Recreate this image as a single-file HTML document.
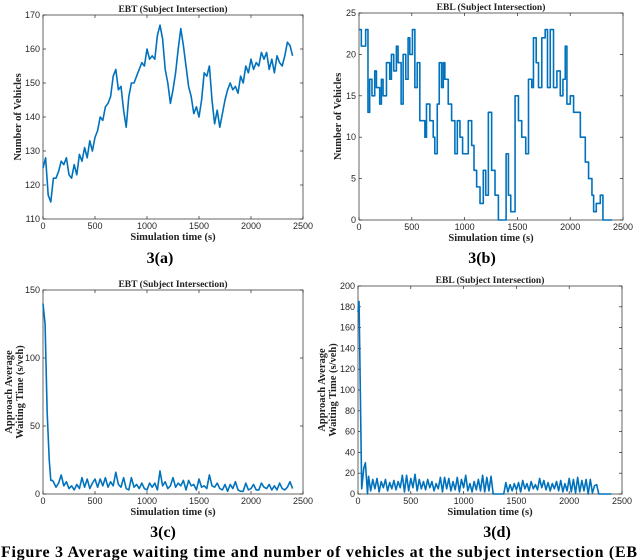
<!DOCTYPE html>
<html><head><meta charset="utf-8">
<style>
html,body{margin:0;padding:0;background:#fff;}
svg{display:block;}
.tick{font-family:"Liberation Sans",sans-serif;font-size:9px;fill:#262626;}
.ttl{font-family:"Liberation Serif",serif;font-weight:bold;font-size:9.5px;fill:#222;}
.sub{font-family:"Liberation Serif",serif;font-weight:bold;font-size:16px;fill:#000;}
</style></head>
<body>
<svg id="fig" width="640" height="560" viewBox="0 0 640 560">
<text class="sub" x="160" y="263" text-anchor="middle">3(a)</text>
<text class="sub" x="482" y="263" text-anchor="middle">3(b)</text>
<text class="sub" x="163" y="537" text-anchor="middle">3(c)</text>
<text class="sub" x="497" y="537" text-anchor="middle">3(d)</text>
<text class="sub" x="1" y="557" textLength="636" lengthAdjust="spacing">Figure 3 Average waiting time and number of vehicles at the subject intersection (EB</text>
</svg>
<script>
// ---- data ----
const ebtVehTimes = [0,25,50,75,100,125,150,175,200,225,250,275,300,325,350,375,400,425,450,475,500,525,550,575,600,625,650,675,700,725,750,775,800,825,850,875,900,925,950,975,1000,1025,1050,1075,1100,1125,1150,1175,1200,1225,1250,1275,1300,1325,1350,1375,1400,1425,1450,1475,1500,1525,1550,1575,1600,1625,1650,1675,1700,1725,1750,1775,1800,1825,1850,1875,1900,1925,1950,1975,2000,2025,2050,2075,2100,2125,2150,2175,2200,2225,2250,2275,2300,2325,2350,2375,2400];
const ebtVehValues = [125,128,117,115,122,122,124,127,126,128,123,122,126,123,129,127,131,128,133,130,134,136,140,139,143,144,146,152,154,148,149,142,137,146,150,150,152,154,156,155,160,157,158,157,164,167,163,154,150,144,148,153,160,166,161,155,149,146,141,143,140,145,153,152,155,145,138,142,137,141,145,148,150,148,149,147,152,150,155,153,157,154,156,155,159,157,159,154,157,153,158,156,155,158,162,161,158];
const eblVehTimes = [0,6,22,54,63,85,101,123,149,165,196,212,228,260,291,307,329,354,370,399,418,443,465,481,506,529,551,576,608,624,639,671,703,718,741,760,782,798,813,845,877,908,931,956,981,1019,1035,1067,1089,1114,1146,1177,1200,1225,1256,1288,1320,1361,1393,1415,1437,1478,1510,1541,1579,1605,1636,1652,1678,1700,1731,1763,1785,1811,1842,1874,1906,1931,1953,1969,2001,2032,2064,2096,2143,2174,2206,2222,2247,2285,2310,2396];
const eblVehValues = [23,23,21,21,23,13,17,15,18,16,14,17,15,19,17,20,18,21,19,14,20,17,22,20,23,16,19,12,12,10,14,12,10,8,14,19,16,19,17,14,12,8,12,10,8,8,12,9,6,4,2,6,3,13,6,3,0,0,8,3,1,15,12,10,8,17,16,22,19,16,22,23,16,23,16,18,15,17,21,14,15,13,13,10,7,5,3,1,2,3,0,0];
const ebtWaitHead = [140,125,60,25,10,10];
const ebtWaitHeadTimes = [0,20,40,60,75,90];
const ebtWaitValues = [9,5,8,14,6,9,4,6,3,7,4,12,5,11,4,8,11,5,11,6,12,5,9,6,16,7,5,12,4,3,12,5,7,4,8,4,3,8,5,8,3,17,6,9,4,6,12,5,8,6,10,3,10,6,7,3,11,5,6,4,14,6,5,8,4,3,7,2,7,4,9,3,2,2,8,3,4,7,3,3,8,5,4,7,3,6,3,8,4,3,5,9,4];
const eblWaitHead = [175,185,5,25,30,0];
const eblWaitHeadTimes = [0,10,35,55,70,90];
const eblWaitValues = [17,3,14,5,15,2,12,6,14,3,11,5,13,4,12,6,18,2,18,3,15,6,19,3,14,5,12,4,14,6,12,3,10,5,16,2,16,5,15,3,12,4,16,2,14,6,18,3,10,2,12,4,14,3,18,2,16,3,17,0,0,0,0,0,0,11,2,9,3,10,4,11,2,13,5,10,3,12,5,9,4,15,6,13,4,11,3,10,5,12,3,13,2,10,3,15,2,14,1,16,2,13,3,14,0,14,1,8,9,0,0,0,0,0,0,0];
const xTicks = [0,500,1000,1500,2000,2500];
const yTicksA = [110,120,130,140,150,160,170];
const yTicksB = [0,5,10,15,20,25];
const yTicksC = [0,50,100,150];
const yTicksD = [0,20,40,60,80,100,120,140,160,180,200];

const NS = "http://www.w3.org/2000/svg";
const svg = document.getElementById('fig');
function mk(tag, attrs, parent){
  const e = document.createElementNS(NS, tag);
  for (const k in attrs) e.setAttribute(k, attrs[k]);
  (parent||svg).appendChild(e);
  return e;
}
function uniform(start, step, n){ const a=[]; for(let i=0;i<n;i++) a.push(start+i*step); return a; }

function panel(o){
  const g = mk('g', {});
  
  
  const sx = v => o.L + (v - 0) / 2500 * (o.R - o.L);
  const sy = v => o.B - (v - o.ymin) / (o.ymax - o.ymin) * (o.B - o.T);
  const box = mk('rect', {x:o.L, y:o.T, width:o.R-o.L, height:o.B-o.T, fill:'#fff', stroke:'#262626', 'stroke-width':0.7}, g);
  
  
  xTicks.forEach(t => {
    const x = sx(t);
    mk('line', {x1:x, x2:x, y1:o.B, y2:o.B-3, stroke:'#262626', 'stroke-width':0.7}, g);
    mk('line', {x1:x, x2:x, y1:o.T, y2:o.T+3, stroke:'#262626', 'stroke-width':0.7}, g);
    const tx = mk('text', {x:x, y:o.B+10, 'text-anchor':'middle', class:'tick'}, g);
    tx.textContent = t;
    
    
  });
  o.yTicks.forEach(t => {
    const y = sy(t);
    mk('line', {x1:o.L, x2:o.L+3, y1:y, y2:y, stroke:'#262626', 'stroke-width':0.7}, g);
    mk('line', {x1:o.R, x2:o.R-3, y1:y, y2:y, stroke:'#262626', 'stroke-width':0.7}, g);
    const tx = mk('text', {x:o.L-3, y:y+3, 'text-anchor':'end', class:'tick'}, g);
    tx.textContent = t;
    
    
  });
  let d = '';
  for (let i=0;i<o.t.length;i++){
    const x = sx(o.t[i]), y = sy(o.v[i]);
    if (i===0) d += 'M'+x+','+y;
    else if (o.stairs) d += 'H'+x+'V'+y;
    else d += 'L'+x+','+y;
  }
  const p = mk('path', {d:d, fill:'none', stroke:'#0072BD', 'stroke-width':1.6, 'stroke-linejoin':'round'}, g);
  
  
  const ti = mk('text', {x:(o.L+o.R)/2, y:o.T-3, 'text-anchor':'middle', class:'ttl'}, g);
  ti.textContent = o.title;
  
  
  const xl = mk('text', {x:(o.L+o.R)/2, y:o.B+21, 'text-anchor':'middle', class:'ttl', style:'font-size:10.5px'}, g);
  xl.textContent = 'Simulation time (s)';
  
  
  const cy = (o.T+o.B)/2;
  o.ylab.forEach((s, i) => {
    const x = o.ylabX[i];
    const yl = mk('text', {x:x, y:cy, 'text-anchor':'middle', class:'ttl', style:'font-size:10.5px', transform:'rotate(-90 '+x+' '+cy+')'}, g);
    yl.textContent = s;
    
    
  });
}

panel({name:'chart-ebt-vehicles', L:43, R:303, T:15, B:219, ymin:110, ymax:170, yTicks:yTicksA,
  t:ebtVehTimes, v:ebtVehValues, stairs:false, title:'EBT (Subject Intersection)',
  ylab:['Number of Vehicles'], ylabX:[21]});
panel({name:'chart-ebl-vehicles', L:359, R:623, T:13, B:220, ymin:0, ymax:25, yTicks:yTicksB,
  t:eblVehTimes, v:eblVehValues, stairs:true, title:'EBL (Subject Intersection)',
  ylab:['Number of Vehicles'], ylabX:[341]});
panel({name:'chart-ebt-waiting', L:43, R:303, T:290, B:494, ymin:0, ymax:150, yTicks:yTicksC,
  t:ebtWaitHeadTimes.concat(uniform(100,25,ebtWaitValues.length)), v:ebtWaitHead.concat(ebtWaitValues),
  stairs:false, title:'EBT (Subject Intersection)',
  ylab:['Approach Average','Waiting Time (s/veh)'], ylabX:[12,23]});
panel({name:'chart-ebl-waiting', L:358, R:622, T:286, B:494, ymin:0, ymax:200, yTicks:yTicksD,
  t:eblWaitHeadTimes.concat(uniform(100,20,eblWaitValues.length)), v:eblWaitHead.concat(eblWaitValues),
  stairs:false, title:'EBL (Subject Intersection)',
  ylab:['Approach Average','Waiting Time (s/veh)'], ylabX:[325,336]});
</script>
</body></html>
